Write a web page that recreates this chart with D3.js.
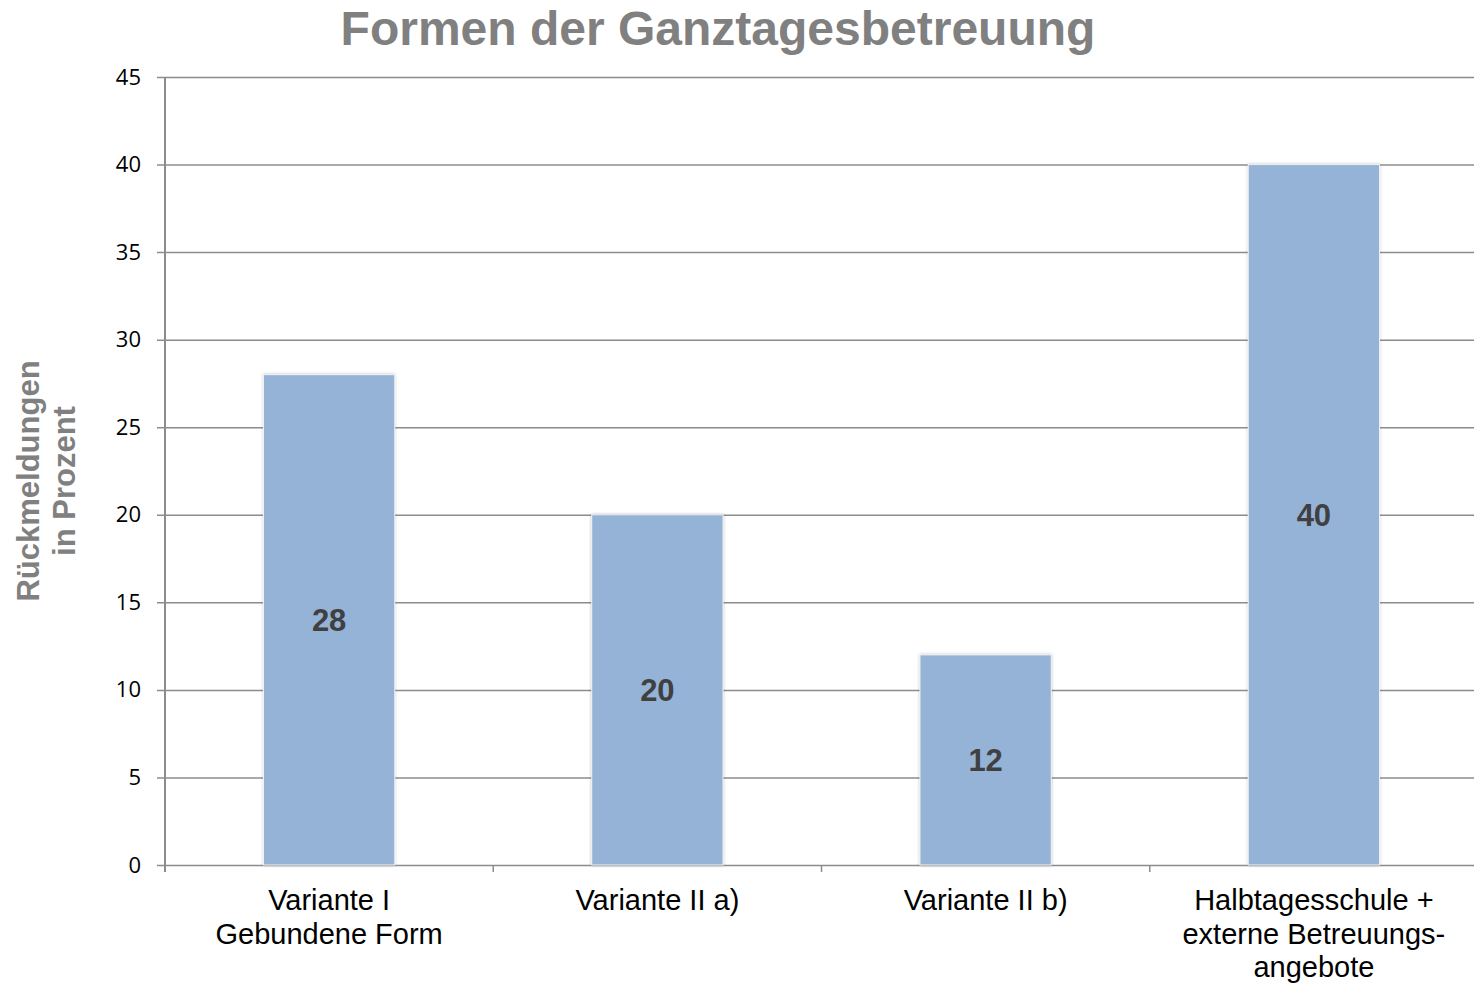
<!DOCTYPE html>
<html>
<head>
<meta charset="utf-8">
<script src="https://cdn.jsdelivr.net/npm/d3@7"></script>
<style>
  body { margin: 0; background: #fff; }
  svg { display: block; }
</style>
</head>
<body>
<div id="container"></div>
<script>
/* DATA */
const categories = [
  ["Variante I", "Gebundene Form"],
  ["Variante II a)"],
  ["Variante II b)"],
  ["Halbtagesschule +", "externe Betreuungs-", "angebote"]
];
const values = [28, 20, 12, 40];
const yTicks = [0, 5, 10, 15, 20, 25, 30, 35, 40, 45];

/* CONSTANTS */
const width = 1474,
  height = 983,
  margin = { top: 77, bottom: 118, left: 165, right: -4 };

const keys = categories.map(d => d.join(" "));

const svg = d3.select("#container")
  .append("svg")
  .attr("width", width)
  .attr("height", height);

// scales
const xScale = d3.scaleBand()
  .domain(keys)
  .range([margin.left, width - margin.right])
  .paddingInner(0.6)
  .paddingOuter(0.3);

const yScale = d3.scaleLinear()
  .domain([0, 45])
  .range([height - margin.bottom, margin.top]);

// bar shadow
const defs = svg.append("defs");
const shadow = defs.append("filter")
  .attr("id", "shadow")
  .attr("x", "-20%").attr("y", "-20%")
  .attr("width", "140%").attr("height", "140%");
shadow.append("feGaussianBlur").attr("in", "SourceAlpha").attr("stdDeviation", 1.5).attr("result", "b");
shadow.append("feComponentTransfer").attr("in", "b").attr("result", "b2")
  .append("feFuncA").attr("type", "linear").attr("slope", 0.25);
const merge = shadow.append("feMerge");
merge.append("feMergeNode").attr("in", "b2");
merge.append("feMergeNode").attr("in", "SourceGraphic");

// gridlines + y axis
const yAxis = d3.axisLeft(yScale)
  .tickValues(yTicks)
  .tickSize(-(width - margin.left))
  .tickPadding(24)
  .tickFormat(d3.format("d"));

const gy = svg.append("g")
  .attr("transform", `translate(${margin.left},0)`)
  .call(yAxis);
gy.select(".domain").remove();
gy.selectAll(".tick line")
  .attr("x1", -8)
  .attr("stroke", "#8c8c8c")
  .attr("stroke-width", 1.5);
gy.selectAll(".tick text")
  .attr("fill", "#000")
  .style("font-family", "'Open Sans', sans-serif")
  .style("font-size", "22px");

// y axis line
svg.append("line")
  .attr("x1", margin.left).attr("x2", margin.left)
  .attr("y1", yScale(45)).attr("y2", yScale(0) + 7)
  .attr("stroke", "#8c8c8c")
  .attr("stroke-width", 2);

// category ticks at band boundaries
const step = xScale.step();
const boundaries = d3.range(categories.length).map(i => margin.left + i * step);
svg.selectAll(".xtick")
  .data(boundaries)
  .join("line")
  .attr("class", "xtick")
  .attr("x1", d => d).attr("x2", d => d)
  .attr("y1", yScale(0)).attr("y2", yScale(0) + 7)
  .attr("stroke", "#8c8c8c")
  .attr("stroke-width", 1.5);

// bars
svg.selectAll("rect.bar")
  .data(values)
  .join("rect")
  .attr("class", "bar")
  .attr("x", (d, i) => xScale(keys[i]))
  .attr("y", d => yScale(d))
  .attr("width", xScale.bandwidth())
  .attr("height", d => yScale(0) - yScale(d))
  .attr("fill", "#95b3d7")
  .attr("stroke", "#f2f2f2")
  .attr("stroke-width", 1)
  .attr("filter", "url(#shadow)");

// value labels
svg.selectAll("text.val")
  .data(values)
  .join("text")
  .attr("class", "val")
  .attr("x", (d, i) => xScale(keys[i]) + xScale.bandwidth() / 2)
  .attr("y", d => (yScale(d) + yScale(0)) / 2)
  .attr("dy", "0.36em")
  .attr("text-anchor", "middle")
  .attr("fill", "#404040")
  .style("font-family", "'Liberation Sans', Arial, sans-serif")
  .style("font-weight", "bold")
  .style("font-size", "31px")
  .text(d => d);

// category labels
const catLabels = svg.selectAll("text.cat")
  .data(categories)
  .join("text")
  .attr("class", "cat")
  .attr("x", (d, i) => xScale(keys[i]) + xScale.bandwidth() / 2)
  .attr("y", yScale(0) + 45)
  .attr("text-anchor", "middle")
  .attr("fill", "#000")
  .style("font-family", "'Liberation Sans', Arial, sans-serif")
  .style("font-size", "29px");
catLabels.selectAll("tspan")
  .data(d => d)
  .join("tspan")
  .attr("x", function () { return d3.select(this.parentNode).attr("x"); })
  .attr("dy", (d, i) => i === 0 ? 0 : 33.5)
  .text(d => d);

// y axis title
const yTitle = svg.append("text")
  .attr("transform", `translate(39, ${(yScale(0) + yScale(45)) / 2 + 10}) rotate(-90)`)
  .attr("text-anchor", "middle")
  .attr("fill", "#808080")
  .style("font-family", "'Liberation Sans', Arial, sans-serif")
  .style("font-weight", "bold")
  .style("font-size", "31px");
yTitle.append("tspan").attr("x", 0).attr("dy", 0).text("Rückmeldungen");
yTitle.append("tspan").attr("x", 0).attr("dy", 36).text("in Prozent");

// chart title
svg.append("text")
  .attr("x", 718)
  .attr("y", 45)
  .attr("text-anchor", "middle")
  .attr("fill", "#808080")
  .style("font-family", "'Liberation Sans', Arial, sans-serif")
  .style("font-weight", "bold")
  .style("font-size", "48px")
  .text("Formen der Ganztagesbetreuung");
</script>
</body>
</html>
